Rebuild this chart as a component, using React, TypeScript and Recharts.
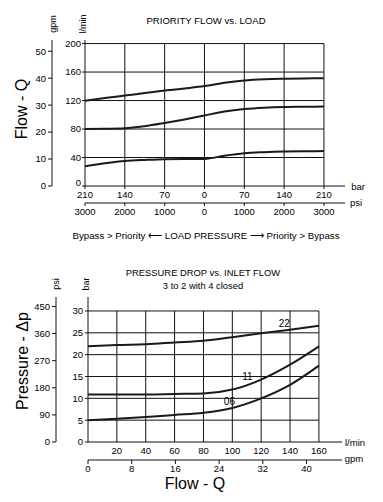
import React from "react";
import {
  LineChart,
  Line,
  XAxis,
  YAxis,
  ReferenceLine,
  ReferenceDot,
} from "recharts";

// ---- Priority flow vs. load ----
const loadBar = [-210, -175, -140, -105, -70, -35, 0, 35, 70, 105, 140, 175, 210];
const flowUpper = [119.7, 123.5, 127, 130.5, 134, 137, 140.3, 145, 148.3, 150, 150.7, 151, 151.3];
const flowMiddle = [80, 80.3, 81, 84, 88.5, 93.5, 99, 104.5, 108, 110, 111, 111.3, 111.5];
const flowLower = [27.8, 31.8, 35, 36.6, 37.7, 37.9, 38, 42.5, 46, 47.5, 48.4, 48.8, 49];

const barTicks = [-210, -140, -70, 0, 70, 140, 210];
const psiTickLabels = ["3000", "2000", "1000", "0", "1000", "2000", "3000"];
const flowLminTicks = [0, 40, 80, 120, 160, 200];
const flowGpmTicks = [0, 10, 20, 30, 40, 50];

// ---- Pressure drop vs. inlet flow ----
const inletFlow = [0, 20, 40, 60, 80, 100, 120, 140, 160];
const drop22 = [21.9, 22.2, 22.4, 22.8, 23.2, 24.0, 24.9, 25.7, 26.6];
const drop11 = [10.9, 10.9, 10.9, 11.0, 11.1, 12.0, 14.3, 17.7, 21.9];
const drop06 = [5.0, 5.3, 5.7, 6.2, 6.7, 7.8, 10.0, 13.1, 17.5];

const dropBarTicks = [0, 5, 10, 15, 20, 25, 30];
const dropPsiTicks = [0, 90, 180, 270, 360, 450];
const inletLminTicks = [20, 40, 60, 80, 100, 120, 140, 160];
const inletGpmTicks = [0, 8, 16, 24, 32, 40];

const curveNames = ["22", "11", "06"];
const curveLabelFlow = [136, 110.5, 98];
const curveLabelBar = [27.1, 14.95, 9.2];

const FONT = "'Liberation Sans', Arial, sans-serif";
const INK = "#111";

const toRows = (xs: number[], ys: number[]) => xs.map((x, i) => ({ x, v: ys[i] }));

const tickStyle = { fill: "#000", fontSize: 9.5, fontFamily: FONT };

// the zero label of the l/min axis sits a little above its tick, clear of the bar labels
function LminTick(props: any) {
  const { x, y, payload } = props;
  return (
    <text
      x={x}
      y={payload.value === 0 ? y - 3 : y}
      dy="0.355em"
      textAnchor="end"
      {...tickStyle}
    >
      {payload.value}
    </text>
  );
}

function Note({
  x,
  y,
  size = 9.5,
  rotate = false,
  children,
}: {
  x: number;
  y: number;
  size?: number;
  rotate?: boolean;
  children: React.ReactNode;
}) {
  return (
    <div
      style={{
        position: "absolute",
        left: x,
        top: y,
        transform: `translate(-50%, -50%)${rotate ? " rotate(-90deg)" : ""}`,
        fontSize: size,
        fontFamily: FONT,
        whiteSpace: "nowrap",
        lineHeight: 1,
        color: "#000",
      }}
    >
      {children}
    </div>
  );
}

// axis ids are ordered so that the first one sits next to the plot
function PriorityFlowChart() {
  const series = [flowUpper, flowMiddle, flowLower];
  return (
    <LineChart
      width={383}
      height={250}
      margin={{ top: 40, right: 38, bottom: 25, left: 22 }}
    >
      <XAxis
        xAxisId="a_bar"
        dataKey="x"
        type="number"
        domain={[-210, 247]}
        allowDataOverflow
        ticks={barTicks}
        interval={0}
        tickFormatter={(v: number) => String(Math.abs(v))}
        tickSize={3}
        height={17}
        stroke={INK}
        tick={tickStyle}
      />
      <XAxis
        xAxisId="b_psi"
        dataKey="x"
        type="number"
        domain={[-210, 247]}
        allowDataOverflow
        ticks={barTicks}
        interval={0}
        tickFormatter={(v: number) => psiTickLabels[barTicks.indexOf(v)]}
        tickSize={3}
        height={22}
        stroke={INK}
        tick={tickStyle}
      />
      <YAxis
        yAxisId="a_lmin"
        type="number"
        domain={[0, 205]}
        allowDataOverflow
        ticks={flowLminTicks}
        interval={0}
        tickSize={3}
        tickMargin={1}
        width={33}
        stroke={INK}
        tick={<LminTick />}
      />
      <YAxis
        yAxisId="b_gpm"
        type="number"
        domain={[0, 205 / 3.785]}
        allowDataOverflow
        ticks={flowGpmTicks}
        interval={0}
        tickSize={4}
        tickMargin={2}
        width={30}
        stroke={INK}
        tick={tickStyle}
      />
      {barTicks.slice(1).map((t) => (
        <ReferenceLine
          key={"v" + t}
          xAxisId="a_bar"
          yAxisId="a_lmin"
          segment={[
            { x: t, y: 0 },
            { x: t, y: 200 },
          ]}
          stroke={INK}
        />
      ))}
      {flowLminTicks.slice(1).map((t) => (
        <ReferenceLine
          key={"h" + t}
          xAxisId="a_bar"
          yAxisId="a_lmin"
          segment={[
            { x: -210, y: t },
            { x: 210, y: t },
          ]}
          stroke={INK}
        />
      ))}
      {series.map((s, i) => (
        <Line
          key={i}
          xAxisId="a_bar"
          yAxisId="a_lmin"
          data={toRows(loadBar, s)}
          dataKey="v"
          type="monotone"
          stroke="#1a1a1a"
          strokeWidth={2}
          dot={false}
          isAnimationActive={false}
        />
      ))}
    </LineChart>
  );
}

function PressureDropChart() {
  const series = [drop22, drop11, drop06];
  return (
    <LineChart
      width={383}
      height={252}
      margin={{ top: 47, right: 41, bottom: 20, left: 26 }}
    >
      <XAxis
        xAxisId="a_lmin"
        dataKey="x"
        type="number"
        domain={[0, 176]}
        allowDataOverflow
        ticks={inletLminTicks}
        interval={0}
        tickLine={false}
        tickSize={3}
        height={18}
        stroke={INK}
        tick={tickStyle}
      />
      <XAxis
        xAxisId="b_gpm"
        dataKey="x"
        type="number"
        domain={[0, 176 / 3.785]}
        allowDataOverflow
        ticks={inletGpmTicks}
        interval={0}
        tickSize={4}
        tickMargin={1}
        height={22}
        stroke={INK}
        tick={tickStyle}
      />
      <YAxis
        yAxisId="a_bar"
        type="number"
        domain={[0, 33.2]}
        allowDataOverflow
        ticks={dropBarTicks}
        interval={0}
        tickSize={3}
        tickMargin={2}
        width={32}
        stroke={INK}
        tick={tickStyle}
      />
      <YAxis
        yAxisId="b_psi"
        type="number"
        domain={[0, 33.2 * 14.5]}
        allowDataOverflow
        ticks={dropPsiTicks}
        interval={0}
        tickSize={4}
        tickMargin={2}
        width={30}
        stroke={INK}
        tick={tickStyle}
      />
      {inletLminTicks.map((t) => (
        <ReferenceLine
          key={"v" + t}
          xAxisId="a_lmin"
          yAxisId="a_bar"
          segment={[
            { x: t, y: 0 },
            { x: t, y: 30 },
          ]}
          stroke={INK}
        />
      ))}
      {dropBarTicks.slice(1).map((t) => (
        <ReferenceLine
          key={"h" + t}
          xAxisId="a_lmin"
          yAxisId="a_bar"
          segment={[
            { x: 0, y: t },
            { x: 160, y: t },
          ]}
          stroke={INK}
        />
      ))}
      {series.map((s, i) => (
        <Line
          key={i}
          xAxisId="a_lmin"
          yAxisId="a_bar"
          data={toRows(inletFlow, s)}
          dataKey="v"
          type="monotone"
          stroke="#1a1a1a"
          strokeWidth={2}
          dot={false}
          isAnimationActive={false}
        />
      ))}
      {curveNames.map((name, i) => (
        <ReferenceDot
          key={name}
          xAxisId="a_lmin"
          yAxisId="a_bar"
          x={curveLabelFlow[i]}
          y={curveLabelBar[i]}
          r={0}
          stroke="none"
          fill="none"
          label={{ value: name, position: "center", fill: "#000", fontSize: 10, fontFamily: FONT }}
        />
      ))}
    </LineChart>
  );
}

export default function App() {
  return (
    <div
      style={{
        position: "absolute",
        left: 0,
        top: 0,
        width: 383,
        height: 502,
        background: "#fff",
        overflow: "hidden",
      }}
    >
      <div style={{ position: "absolute", left: 0, top: 0 }}>
        <PriorityFlowChart />
      </div>
      <div style={{ position: "absolute", left: 0, top: 250 }}>
        <PressureDropChart />
      </div>

      <Note x={206} y={21} size={9.6}>PRIORITY FLOW vs. LOAD</Note>
      <Note x={53} y={24} size={9} rotate>gpm</Note>
      <Note x={83} y={24} size={9} rotate>l/min</Note>
      <Note x={22} y={109} size={16} rotate>Flow - Q</Note>
      <Note x={358} y={187}>bar</Note>
      <Note x={356} y={202.5}>psi</Note>
      <Note x={206} y={236} size={9.7}>
        Bypass &gt; Priority ⟵ LOAD PRESSURE ⟶ Priority &gt; Bypass
      </Note>

      <Note x={203} y={273} size={9.4}>PRESSURE DROP vs. INLET FLOW</Note>
      <Note x={203} y={286} size={9.4}>3 to 2 with 4 closed</Note>
      <Note x={56} y={284} size={9} rotate>psi</Note>
      <Note x={86} y={284} size={9} rotate>bar</Note>
      <Note x={23} y={361} size={16} rotate>Pressure - Δp</Note>
      <Note x={355} y={442.5}>l/min</Note>
      <Note x={354} y={459}>gpm</Note>
      <Note x={195} y={484} size={16}>Flow - Q</Note>
    </div>
  );
}
